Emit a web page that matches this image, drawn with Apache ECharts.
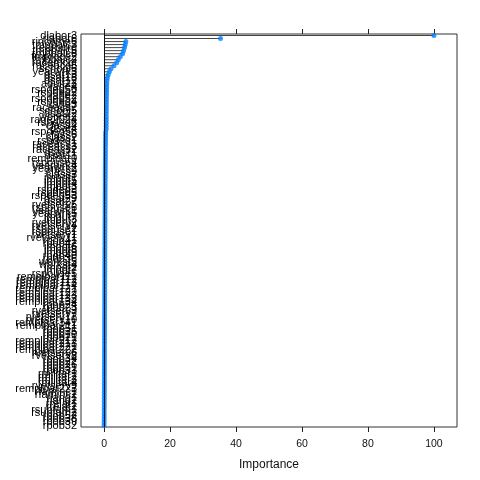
<!DOCTYPE html>
<html>
<head>
<meta charset="utf-8">
<script src="https://cdn.jsdelivr.net/npm/echarts@6/dist/echarts.min.js"></script>
<style>html,body{margin:0;padding:0;background:#fff;}#c{width:480px;height:480px;}</style>
</head>
<body>
<div id="c"></div>
<script>
// Variable names, top to bottom
var variables = [
  'dlabor3','rlabor6','rincome6','tmpbalc3','rearborg','tmpbalc5','tmpbalc6','tmprace2','tmpbalc2','racemcbt',
  'raceacs5','school6','yearwrk3','dsat13','dsat18','dsat12','adult23','rage4','rspdeg50','rspdeg2',
  'rage2','rspdeg52','rspdeg4','rage3','raceacs7','school5','dsat22','workst2','rage2024','rspdeg6',
  'class4','dsat4','rspdeg56','class6','class2','rspdeg1','raceacs1','raceacs3','raceacs2','dsat21',
  'dsat11','remplpar0','rspouse4','yearwrk4','yearwrk2','class9','class3','impdt1','impdt5','impdt4',
  'impdt3','rspdeg3','rspdeg5','rspdeg53','dsat29','dsat27','rvetserv5','rspouse6','yearwrk1','yearwrk5',
  'imput7','imput3','rvetserv2','rvetserv4','rspouse2','rspouse1','rvetserv1','rvetserv11','rpob41','rpob42',
  'impdt6','impdt8','impdt9','rpob40','rpob36','workst5','workst4','impdt2','impdt7','rspouse5',
  'remplpar111','remplpar112','remplpar113','remplpar114','remplpar121','remplpar122','remplpar123','remplpar133','remplpar134','rpob24',
  'rpob23','rvetserv3','rvetserv7','rvetserv12','rvetserv10','remplpar141','remplpar211','rpob51','rpob35','rpob10',
  'rpob21','remplpar212','remplpar213','remplpar221','remplpar222','rvetserv6','rvetserv8','rpob34','rpob22','rpob26',
  'rpob31','rpob33','rmilitar1','rmilitar2','rmilitar3','rmilitar4','rvetserv9','remplpar223','rfaminc1','rfaminc2',
  'rlang1','rlang2','rrelat1','rrelat2','rsubfam1','rsubfam2','rpob52','rpob38','rpob39','rpob32'
];
// Importance values, same order
var importance = [
  100, 35.3, 6.6, 6.4, 6.2, 5.9, 5.6, 4.9, 4.3, 3.8,
  3.0, 2.1, 1.6, 1.25, 1.0, 0.88, 0.82, 0.79, 0.77, 0.75,
  0.74, 0.72, 0.71, 0.70, 0.69, 0.68, 0.67, 0.66, 0.65, 0.64,
  0.63, 0.62, 0.48, 0.46, 0.45, 0.44, 0.43, 0.42, 0.41, 0.40,
  0.40, 0.39, 0.38, 0.37, 0.37, 0.36, 0.35, 0.35, 0.34, 0.34,
  0.33, 0.33, 0.32, 0.32, 0.31, 0.31, 0.30, 0.30, 0.29, 0.29,
  0.28, 0.28, 0.27, 0.27, 0.26, 0.26, 0.25, 0.25, 0.25, 0.24,
  0.24, 0.23, 0.23, 0.23, 0.22, 0.22, 0.21, 0.21, 0.21, 0.20,
  0.20, 0.20, 0.19, 0.19, 0.19, 0.18, 0.18, 0.18, 0.17, 0.17,
  0.17, 0.16, 0.16, 0.16, 0.15, 0.15, 0.15, 0.14, 0.14, 0.14,
  0.13, 0.13, 0.13, 0.12, 0.12, 0.12, 0.11, 0.11, 0.11, 0.10,
  0.10, 0.10, 0.09, 0.09, 0.09, 0.08, 0.08, 0.08, 0.07, 0.07,
  0.06, 0.06, 0.05, 0.05, 0.04, 0.04, 0.03, 0.02, 0.01, 0.00
];
var tickValues = [0, 20, 40, 60, 80, 100];
var xTitle = 'Importance';

var font = 'Liberation Sans, Arial, sans-serif';
var chart = echarts.init(document.getElementById('c'), null, {renderer: 'canvas'});
chart.setOption({
  animation: false,
  backgroundColor: '#fff',
  grid: {left: 81, right: 23, top: 34, bottom: 53, show: true, borderColor: '#333', borderWidth: 1, backgroundColor: 'transparent'},
  xAxis: [{
    type: 'value', min: -7, max: 107, position: 'bottom',
    splitLine: {show: false},
    axisLine: {show: false},
    axisTick: {show: true, inside: false, length: 5, customValues: tickValues, lineStyle: {color: '#222'}},
    axisLabel: {show: true, customValues: tickValues, fontFamily: font, fontSize: 10.5, color: '#111', margin: 12},
    name: xTitle, nameLocation: 'middle', nameGap: 32,
    nameTextStyle: {fontFamily: font, fontSize: 12, color: '#111'}
  }, {
    type: 'value', min: -7, max: 107, position: 'top',
    splitLine: {show: false},
    axisLine: {show: false},
    axisTick: {show: true, inside: false, length: 5, customValues: tickValues, lineStyle: {color: '#222'}},
    axisLabel: {show: false}
  }],
  yAxis: {
    type: 'category', data: variables, inverse: true, boundaryGap: true,
    axisLine: {show: false}, axisTick: {show: false}, splitLine: {show: false},
    axisLabel: {interval: 0, fontFamily: font, fontSize: 11, color: '#000', margin: 4}
  },
  series: [{
    type: 'bar', data: importance, barWidth: 1, silent: true,
    itemStyle: {color: '#444'},
    markLine: {silent: true, symbol: 'none', label: {show: false},
      lineStyle: {color: '#111', width: 1, type: 'solid'},
      data: [{xAxis: 0}]}
  }, {
    type: 'scatter', data: importance, symbol: 'circle', symbolSize: 5,
    itemStyle: {color: '#0080ff'}, silent: true
  }]
});
</script>
</body>
</html>
